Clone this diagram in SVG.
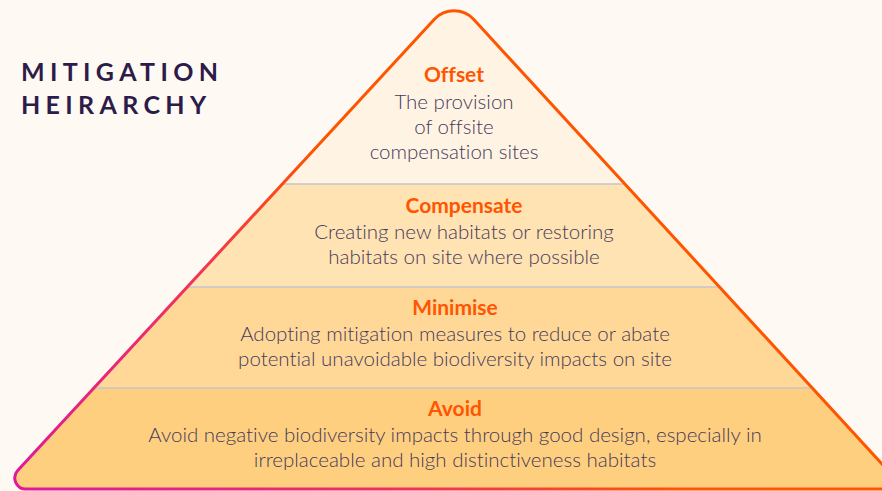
<svg xmlns="http://www.w3.org/2000/svg" width="882" height="491" viewBox="0 0 882 491">
  <defs>
    <clipPath id="tri">
      <path d="M17.7,470.6 L434.4,19.3 A27,27 0 0 1 473.6,19.3 L905,489 L26,489 A11,11 0 0 1 17.7,470.6 Z"/>
    </clipPath>
    <linearGradient id="edge" gradientUnits="userSpaceOnUse" x1="20" y1="480" x2="330" y2="150">
      <stop offset="0" stop-color="#DE1A9A"/>
      <stop offset="0.55" stop-color="#F0305F"/>
      <stop offset="1" stop-color="#FF5500"/>
    </linearGradient>
    <style>
      text { font-variant-ligatures: none; }
      .title { font-family: Lato, "Liberation Sans", sans-serif; font-weight: 700; font-size: 25px; fill: #2D1B4A; letter-spacing: 5.35px; }
      .head { font-family: Lato, "Liberation Sans", sans-serif; font-weight: 700; font-size: 21px; fill: #FF5500; text-anchor: middle; }
      .body { font-family: Lato, "Liberation Sans", sans-serif; font-weight: 300; font-size: 20.5px; fill: #463A5C; text-anchor: middle; }
      .div { stroke: #C6C4CC; stroke-width: 1.5; }
    </style>
  </defs>
  <rect width="882" height="491" fill="#FEF9F2"/>

  <g id="title">
    <text class="title" x="21" y="81">MITIGATION</text>
    <text class="title" x="21" y="114">HEIRARCHY</text>
  </g>

  <g clip-path="url(#tri)">
    <rect id="band-offset" x="0" y="0" width="910" height="184" fill="#FFF4E3"/>
    <rect id="band-compensate" x="0" y="184" width="910" height="103" fill="#FFE3B3"/>
    <rect id="band-minimise" x="0" y="287" width="910" height="101" fill="#FFD898"/>
    <rect id="band-avoid" x="0" y="388" width="910" height="103" fill="#FFCF80"/>
    <line class="div" x1="0" y1="184" x2="910" y2="184"/>
    <line class="div" x1="0" y1="287" x2="910" y2="287"/>
    <line class="div" x1="0" y1="388" x2="910" y2="388"/>
  </g>

  <g id="connectors">
    <path d="M17.7,470.6 L434.4,19.3 A27,27 0 0 1 473.6,19.3 L905,489 L26,489 A11,11 0 0 1 17.7,470.6 Z" fill="none" stroke="url(#edge)" stroke-width="3"/>
  </g>

  <g id="offset">
    <text class="head" x="454" y="82">Offset</text>
    <text class="body" x="454" y="109">The provision</text>
    <text class="body" x="454" y="134">of offsite</text>
    <text class="body" x="454" y="159">compensation sites</text>
  </g>

  <g id="compensate">
    <text class="head" x="464" y="213">Compensate</text>
    <text class="body" x="464" y="239">Creating new habitats or restoring</text>
    <text class="body" x="464" y="264">habitats on site where possible</text>
  </g>

  <g id="minimise">
    <text class="head" x="455" y="315">Minimise</text>
    <text class="body" x="455" y="341">Adopting mitigation measures to reduce or abate</text>
    <text class="body" x="455" y="366">potential unavoidable biodiversity impacts on site</text>
  </g>

  <g id="avoid">
    <text class="head" x="455" y="416">Avoid</text>
    <text class="body" x="455" y="442">Avoid negative biodiversity impacts through good design, especially in</text>
    <text class="body" x="455" y="467">irreplaceable and high distinctiveness habitats</text>
  </g>
</svg>
